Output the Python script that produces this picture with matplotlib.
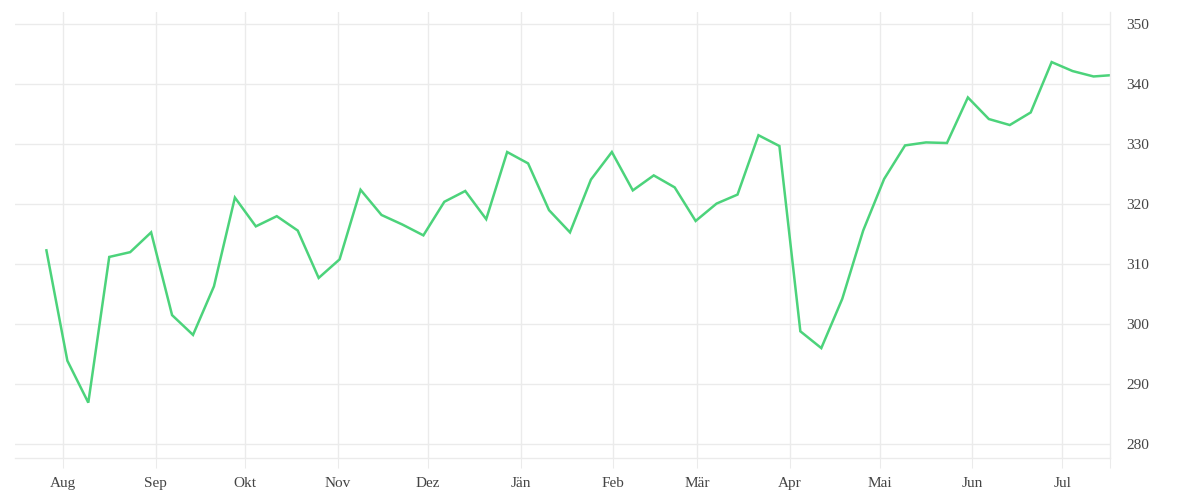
import matplotlib
matplotlib.use("Agg")
import matplotlib.pyplot as plt
import pandas as pd

# weekly values, last point is a partial week
start_date = "2020-07-26 12:00"
last_date = "2021-07-17"
values = [
    312.3, 293.9, 286.9, 311.2, 312.0, 315.3, 301.5, 298.2, 306.3, 321.1,
    316.3, 318.0, 315.6, 307.7, 310.8, 322.4, 318.2, 316.6, 314.8, 320.4,
    322.2, 317.5, 328.7, 326.8, 319.0, 315.3, 324.1, 328.7, 322.3, 324.8,
    322.8, 317.2, 320.1, 321.6, 331.5, 329.7, 298.8, 296.0, 304.2, 315.6,
    324.2, 329.8, 330.3, 330.2, 337.8, 334.2, 333.2, 335.3, 343.7, 342.2,
    341.3, 341.5,
]
month_labels = ["Aug", "Sep", "Okt", "Nov", "Dez", "Jän", "Feb", "Mär",
                "Apr", "Mai", "Jun", "Jul"]
y_ticks = [280, 290, 300, 310, 320, 330, 340, 350]

dates = list(pd.date_range(start_date, periods=len(values) - 1, freq="7D"))
dates.append(pd.Timestamp(last_date))
month_starts = pd.date_range("2020-08-01", periods=len(month_labels), freq="MS")

grid_col = "#ebebeb"
text_col = "#444444"

fig = plt.figure(figsize=(12, 5), dpi=100)
ax = fig.add_axes([15 / 1200, 42 / 500, 1095 / 1200, 446 / 500])

ax.plot(dates, values, color="#4cd37b", linewidth=1.8, solid_joinstyle="miter")

ax.set_xlim(pd.Timestamp("2020-07-16"), pd.Timestamp(last_date))
ax.set_ylim(277.67, 352.05)

ax.set_xticks(month_starts)
ax.set_xticklabels(month_labels)
ax.set_xticks([pd.Timestamp(last_date)], minor=True)
ax.set_yticks(y_ticks)

ax.yaxis.tick_right()
ax.grid(True, color=grid_col, linewidth=1.0)
ax.set_axisbelow(True)

for side in ["top", "left"]:
    ax.spines[side].set_visible(False)
for side in ["bottom", "right"]:
    ax.spines[side].set_color(grid_col)
    ax.spines[side].set_linewidth(1.0)

ax.tick_params(axis="x", which="both", length=7.2, width=0.75, color=grid_col,
               labelcolor=text_col, labelsize=11, pad=6.5)
ax.tick_params(axis="y", length=0, labelcolor=text_col, labelsize=11, pad=12)
for lbl in ax.get_xticklabels() + ax.get_yticklabels():
    lbl.set_family(["Liberation Serif", "DejaVu Serif"])
for lbl in ax.get_yticklabels():
    lbl.set_va("center_baseline")

fig.savefig("out.png", dpi=100)
